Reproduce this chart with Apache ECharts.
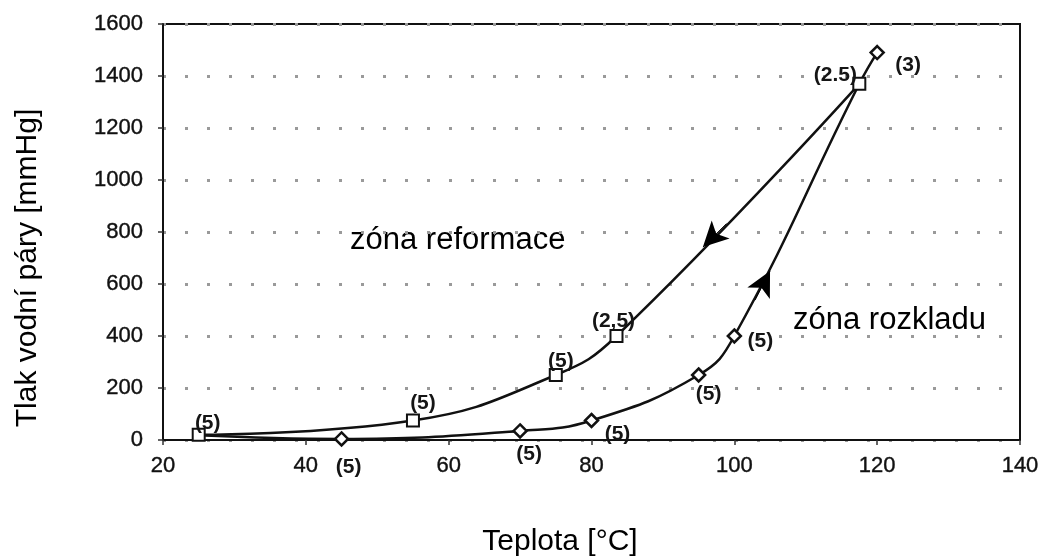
<!DOCTYPE html>
<html><head><meta charset="utf-8">
<script src="https://cdn.jsdelivr.net/npm/echarts@6/dist/echarts.min.js"></script>
<style>html,body{margin:0;padding:0;background:#fff}#c{width:1045px;height:558px}</style>
</head><body><div id="c"></div>
<script>
// ---- data ----
const xTickMin = 20, xTickMax = 140, xTickStep = 20;
const yTickMin = 0, yTickMax = 1600, yTickStep = 200;
const reformTemp  = [25, 55, 75, 83.5, 117.5];
const reformPress = [20, 75, 250, 400, 1370];
const reformNotes = ['(5)', '(5)', '(5)', '(2,5)', '(2.5)'];
const rozkladTemp  = [25, 45, 70, 80, 95, 100, 117.5, 120];
const rozkladPress = [18, 4, 35, 75, 250, 400, 1370, 1490];
const rozkladNotes = ['', '(5)', '(5)', '(5)', '(5)', '(5)', '', '(3)'];
// arrows: from (tail) -> to (tip), in data units
const arrowFromTemp  = [98.9, 102.9];
const arrowFromPress = [832, 538];
const arrowToTemp    = [95.6, 105.0];
const arrowToPress   = [742, 650];
const zoneTexts = ['zóna reformace', 'zóna rozkladu'];
const xTitle = 'Teplota [°C]';
const yTitle = 'Tlak vodní páry [mmHg]';

// ---- styles ----
const reformOffsets  = [[9,-12],[10,-17],[5,-14],[-3,-15],[-24,-9]];
const rozkladOffsets = [null,[7,28],[9,23],[26,14],[10,19],[26,5],null,[31,13]];
const rozkladHidden  = [true,false,false,false,false,false,true,false];
const FONT = '"Liberation Sans", Arial, sans-serif';
const labelStyle = {fontFamily: FONT, fontWeight: 'bold', fontSize: 21, color: '#151515'};

const reformData = reformTemp.map((t, i) => ({
  value: [t, reformPress[i]],
  label: Object.assign({show: true, position: 'inside', formatter: reformNotes[i], offset: reformOffsets[i]}, labelStyle)
}));
const rozkladData = rozkladTemp.map((t, i) => {
  const d = {value: [t, rozkladPress[i]]};
  if (rozkladHidden[i]) { d.symbol = 'none'; d.label = {show: false}; }
  else d.label = Object.assign({show: true, position: 'inside', formatter: rozkladNotes[i], offset: rozkladOffsets[i]}, labelStyle);
  return d;
});
const lineStyle = {color: '#111', width: 2.5};
function arrowMark(i) {
  return {
    silent: true, symbol: ['none', 'arrow'], symbolSize: [19, 25],
    label: {show: false}, lineStyle: {color: '#000', width: 1, type: 'solid'},
    data: [[{coord: [arrowFromTemp[i], arrowFromPress[i]]}, {coord: [arrowToTemp[i], arrowToPress[i]]}]]
  };
}
const tickLabel = {fontFamily: FONT, fontSize: 22, color: '#111', textBorderColor: '#111', textBorderWidth: 0.4};

const chart = echarts.init(document.getElementById('c'));
chart.setOption({
  animation: false,
  backgroundColor: '#fff',
  grid: {left: 163, right: 25, top: 24, bottom: 118, show: true, borderColor: '#111', borderWidth: 2, backgroundColor: 'transparent'},
  xAxis: {
    type: 'value', min: xTickMin, max: xTickMax, interval: xTickStep,
    axisLine: {show: true, lineStyle: {color: '#111', width: 2}},
    axisTick: {show: true, length: 5, lineStyle: {color: '#333', width: 1.5}},
    axisLabel: Object.assign({margin: 15, formatter: v => String(v)}, tickLabel),
    splitLine: {show: false}
  },
  yAxis: {
    type: 'value', min: yTickMin, max: yTickMax, interval: yTickStep,
    axisLine: {show: true, lineStyle: {color: '#111', width: 2}},
    axisTick: {show: true, length: 5, lineStyle: {color: '#333', width: 1.5}},
    axisLabel: Object.assign({margin: 20, formatter: v => String(v)}, tickLabel),
    splitLine: {show: true, lineStyle: {color: '#9a9a9a', width: 3, type: [3, 19]}}
  },
  series: [
    {
      name: 'reformace', type: 'line', smooth: 0.45, data: reformData,
      symbol: 'rect', symbolSize: 12,
      itemStyle: {color: '#fff', borderColor: '#111', borderWidth: 2},
      lineStyle: lineStyle, z: 3,
      markLine: arrowMark(0)
    },
    {
      name: 'rozkladu', type: 'line', smooth: 0.45, data: rozkladData,
      symbol: 'diamond', symbolSize: 13,
      itemStyle: {color: '#fff', borderColor: '#111', borderWidth: 2.5},
      lineStyle: lineStyle, z: 3,
      markLine: arrowMark(1)
    }
  ],
  graphic: [
    {type: 'text', left: 350, top: 225, style: {text: zoneTexts[0], font: '31px ' + FONT, fill: '#000'}},
    {type: 'text', left: 793, top: 305, style: {text: zoneTexts[1], font: '31px ' + FONT, fill: '#000'}},
    {type: 'text', x: 560, y: 542, style: {text: xTitle, font: '30px ' + FONT, fill: '#000', textAlign: 'center', textVerticalAlign: 'middle'}},
    {type: 'text', x: 28, y: 268, rotation: Math.PI / 2, style: {text: yTitle, font: '30px ' + FONT, fill: '#000', textAlign: 'center', textVerticalAlign: 'middle'}}
  ]
});
</script></body></html>
